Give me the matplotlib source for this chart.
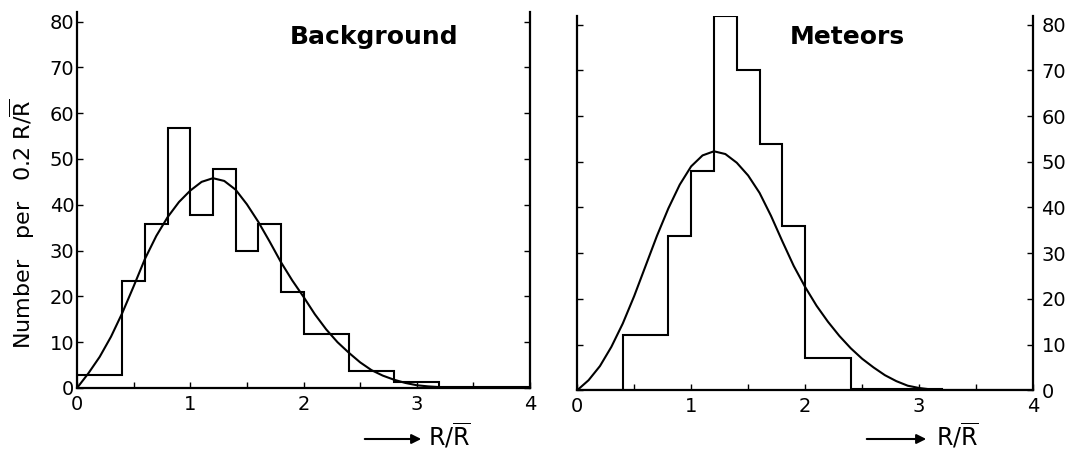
import matplotlib
matplotlib.use("Agg")
import matplotlib.pyplot as plt
import numpy as np

# histogram bins (R/Rbar) and counts per 0.2 R/Rbar
bg_edges = [0, 0.4, 0.6, 0.8, 1.0, 1.2, 1.4, 1.6, 1.8, 2.0, 2.4, 2.8, 3.2, 4.0]
bg_counts = [2.9, 23.4, 35.8, 56.8, 37.8, 47.7, 29.8, 35.8, 20.9, 11.8, 3.7, 1.4, 0.3]

met_edges = [0, 0.4, 0.8, 1.0, 1.2, 1.4, 1.6, 1.8, 2.0, 2.4, 3.2, 4.0]
met_counts = [0, 12.0, 33.8, 47.9, 81.8, 70.0, 53.9, 35.9, 7.0, 0.3, 0]

# theoretical curves
curve_x = [0.0, 0.1, 0.2, 0.3, 0.4, 0.5, 0.6, 0.7, 0.8, 0.9, 1.0, 1.1, 1.2, 1.3,
           1.4, 1.5, 1.6, 1.7, 1.8, 1.9, 2.0, 2.1, 2.2, 2.3, 2.4, 2.5, 2.6, 2.7,
           2.8, 2.9, 3.0, 3.1, 3.2, 3.4, 3.6]
bg_curve = [0, 3.2, 6.8, 11.2, 16.4, 22.2, 28.2, 33.2, 37.3, 40.6, 43.1, 45.0, 45.8, 45.2,
            43.3, 40.1, 36.3, 32.0, 27.5, 23.5, 19.9, 16.1, 12.8, 10.0, 7.7, 5.6, 3.9, 2.7,
            1.8, 1.1, 0.6, 0.35, 0.2, 0.05, 0]
met_curve = [0, 2.2, 5.3, 9.5, 14.6, 20.6, 27.2, 33.8, 39.8, 45.0, 49.0, 51.4, 52.3, 51.7,
             49.8, 47.0, 43.2, 38.2, 32.6, 27.2, 22.6, 18.5, 15.0, 11.9, 9.2, 6.9, 5.0, 3.3,
             2.0, 1.0, 0.5, 0.2, 0.05, 0, 0]

y_ticks = np.arange(0, 81, 10)

plt.rcParams["font.family"] = ["DejaVu Sans"]

fig = plt.figure(figsize=(10.79, 4.5), dpi=100)
ax1 = fig.add_axes([0.0714, 0.1378, 0.4198, 0.8347])
ax2 = fig.add_axes([0.5349, 0.1327, 0.4226, 0.8327])


def style_axes(ax, labels_right):
    ax.set_xlim(0, 4)
    ax.set_ylim(0, 82)
    ax.spines["top"].set_visible(False)
    for s in ["left", "right", "bottom"]:
        ax.spines[s].set_linewidth(1.6)
    ax.set_yticks(y_ticks)
    ax.set_xticks([0, 1, 2, 3, 4])
    ax.set_xticks([0.5, 1.5, 2.5, 3.5], minor=True)
    ax.tick_params(axis="x", which="both", direction="in", length=4, width=1,
                   labelsize=14, pad=5)
    ax.tick_params(axis="y", direction="in", length=4, width=1, labelsize=14,
                   left=True, right=True,
                   labelleft=not labels_right, labelright=labels_right,
                   pad=6 if labels_right else 2)


style_axes(ax1, False)
style_axes(ax2, True)

ax1.stairs(bg_counts, bg_edges, baseline=0, color="black", lw=1.5)
ax1.plot(curve_x, bg_curve, color="black", lw=1.5)
ax1.text(2.62, 75, "Background", fontsize=18, fontweight="bold",
         ha="center", va="baseline")

ax2.stairs(met_counts, met_edges, baseline=0, color="black", lw=1.5)
ax2.plot(curve_x, met_curve, color="black", lw=1.5)
ax2.text(2.37, 75.8, "Meteors", fontsize=18, fontweight="bold",
         ha="center", va="baseline")

fig.text(22 / 1079, 1 - 224 / 450, r"Number   per   0.2 R/$\overline{\mathrm{R}}$",
         rotation=90, fontsize=16, ha="center", va="center")

# x labels with arrows
for x0, x1, xt in [(362, 424, 428), (864, 929, 936)]:
    fig.patches.append(matplotlib.patches.FancyArrowPatch(
        (x0 / 1079, 11 / 450), (x1 / 1079, 11 / 450), transform=fig.transFigure,
        arrowstyle="-|>", mutation_scale=14, lw=1.5, color="black"))
    fig.text(xt / 1079, 4 / 450, r"R/$\overline{\mathrm{R}}$", fontsize=17,
             ha="left", va="baseline")

fig.savefig("out.png", dpi=100)
